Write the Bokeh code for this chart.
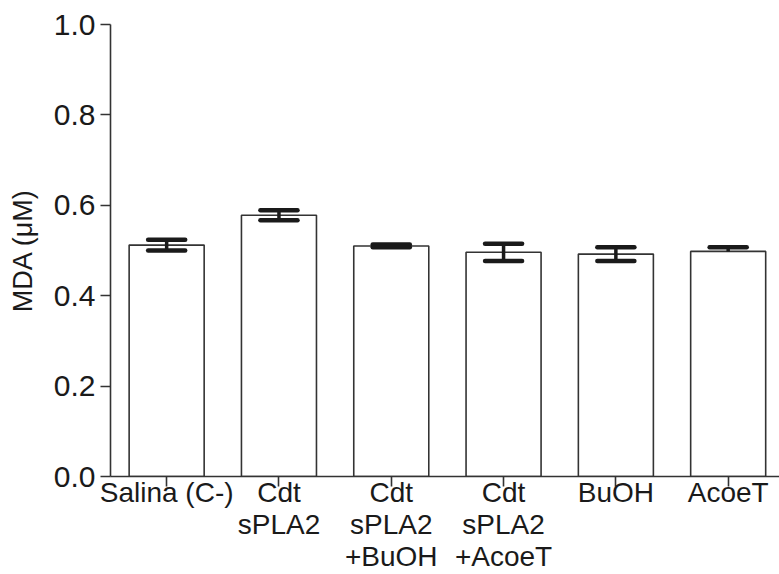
from bokeh.plotting import figure
from bokeh.models import FixedTicker, Range1d, ColumnDataSource
from bokeh.embed import file_html
from bokeh.resources import INLINE

categories = ["Salina (C-)", "Cdt\nsPLA2", "Cdt\nsPLA2\n+BuOH", "Cdt\nsPLA2\n+AcoeT", "BuOH", "AcoeT"]
means = [0.512, 0.578, 0.510, 0.496, 0.492, 0.498]
err_hi = [0.012, 0.011, 0.003, 0.019, 0.015, 0.009]
err_lo = [0.012, 0.011, 0.003, 0.019, 0.015, 0.0]
y_ticks = [0.0, 0.2, 0.4, 0.6, 0.8, 1.0]
y_label = "MDA (\u03bcM)"

FONT = "Liberation Sans"
INK = "#1a1a1a"
LINE = "#333333"

xs = list(range(len(categories)))
upper = [m + h for m, h in zip(means, err_hi)]
lower = [m - l for m, l in zip(means, err_lo)]
cap_half = 0.165

p = figure(width=779, height=574, output_backend="svg", toolbar_location=None,
           x_range=Range1d(-0.5, 5.457), y_range=Range1d(0, 1.0),
           min_border_left=110, min_border_right=0, min_border_top=24, min_border_bottom=98)
p.outline_line_color = None
p.xgrid.visible = False
p.ygrid.visible = False

src = ColumnDataSource(dict(x=xs, top=means, up=upper, lo=lower))
p.vbar(x="x", top="top", bottom=0, width=0.668, source=src,
       fill_color="white", line_color=LINE, line_width=1.6)
p.segment(x0="x", y0="lo", x1="x", y1="up", source=src, line_color=INK, line_width=3.5)
src_hi = ColumnDataSource(dict(x0=[x - cap_half for x in xs], x1=[x + cap_half for x in xs], y=upper))
keep = [i for i in xs if err_lo[i] > 0]
src_lo = ColumnDataSource(dict(x0=[xs[i] - cap_half for i in keep],
                               x1=[xs[i] + cap_half for i in keep],
                               y=[lower[i] for i in keep]))
p.segment(x0="x0", y0="y", x1="x1", y1="y", source=src_hi, line_color=INK, line_width=4.5, line_cap="round")
p.segment(x0="x0", y0="y", x1="x1", y1="y", source=src_lo, line_color=INK, line_width=4.5, line_cap="round")

ya = p.yaxis[0]
ya.ticker = FixedTicker(ticks=y_ticks)
ya.major_label_overrides = {t: f"{t:.1f}" for t in y_ticks}
ya.axis_label = y_label
ya.axis_label_text_font = FONT
ya.axis_label_text_font_size = "27px"
ya.axis_label_text_font_style = "normal"
ya.axis_label_text_color = INK
ya.axis_label_standoff = 13
ya.major_label_text_font = FONT
ya.major_label_text_font_size = "30px"
ya.major_label_text_color = INK
ya.major_label_standoff = 5
ya.major_tick_out = 10
ya.major_tick_in = 0
ya.minor_tick_out = 0
ya.minor_tick_in = 0
ya.axis_line_color = LINE
ya.axis_line_width = 1.6
ya.major_tick_line_color = LINE
ya.major_tick_line_width = 1.6

xa = p.xaxis[0]
xa.ticker = FixedTicker(ticks=xs)
xa.major_label_overrides = {i: c for i, c in zip(xs, categories)}
xa.major_label_text_font = FONT
xa.major_label_text_font_size = "28px"
xa.major_label_text_color = INK
xa.major_label_text_line_height = 1.04
xa.major_label_standoff = -10
xa.major_tick_out = 10
xa.major_tick_in = 0
xa.minor_tick_out = 0
xa.minor_tick_in = 0
xa.axis_line_color = LINE
xa.axis_line_width = 1.6
xa.major_tick_line_color = LINE
xa.major_tick_line_width = 1.6

open("out.html", "w").write(file_html(p, INLINE))
